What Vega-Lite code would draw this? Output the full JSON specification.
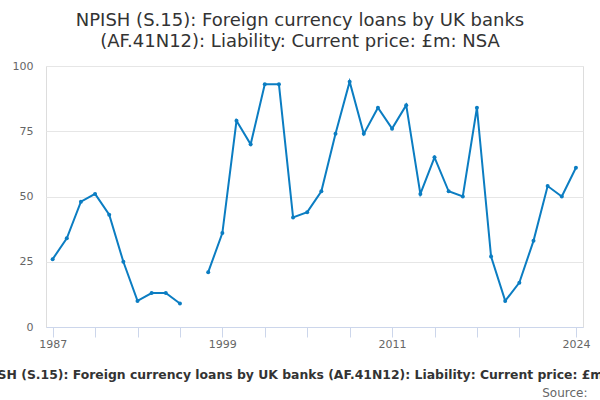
{
  "$schema": "https://vega.github.io/schema/vega-lite/v6.json",
  "autosize": {"type": "none"},
  "width": 537,
  "height": 261,
  "padding": {"left": 46, "top": 66, "right": 17, "bottom": 73},
  "background": "white",
  "title": {
    "text": ["NPISH (S.15): Foreign currency loans by UK banks", "(AF.41N12): Liability: Current price: £m: NSA"],
    "anchor": "middle",
    "dx": -14.5,
    "offset": 9,
    "fontSize": 18,
    "lineHeight": 21,
    "font": "DejaVu Sans",
    "fontWeight": "normal",
    "color": "#333333"
  },
  "data": {
    "values": [
      {"year": 1987, "value": 26},
      {"year": 1988, "value": 34},
      {"year": 1989, "value": 48},
      {"year": 1990, "value": 51},
      {"year": 1991, "value": 43},
      {"year": 1992, "value": 25},
      {"year": 1993, "value": 10},
      {"year": 1994, "value": 13},
      {"year": 1995, "value": 13},
      {"year": 1996, "value": 9},
      {"year": 1997, "value": null},
      {"year": 1998, "value": 21},
      {"year": 1999, "value": 36},
      {"year": 2000, "value": 79},
      {"year": 2001, "value": 70},
      {"year": 2002, "value": 93},
      {"year": 2003, "value": 93},
      {"year": 2004, "value": 42},
      {"year": 2005, "value": 44},
      {"year": 2006, "value": 52},
      {"year": 2007, "value": 74},
      {"year": 2008, "value": 94},
      {"year": 2009, "value": 74},
      {"year": 2010, "value": 84},
      {"year": 2011, "value": 76},
      {"year": 2012, "value": 85},
      {"year": 2013, "value": 51},
      {"year": 2014, "value": 65},
      {"year": 2015, "value": 52},
      {"year": 2016, "value": 50},
      {"year": 2017, "value": 84},
      {"year": 2018, "value": 27},
      {"year": 2019, "value": 10},
      {"year": 2020, "value": 17},
      {"year": 2021, "value": 33},
      {"year": 2022, "value": 54},
      {"year": 2023, "value": 50},
      {"year": 2024, "value": 61}
    ]
  },
  "mark": {
    "type": "line",
    "color": "#0b7dc2",
    "strokeWidth": 2,
    "invalid": "break-paths-show-domains",
    "point": {"filled": true, "size": 16, "color": "#0b7dc2"}
  },
  "encoding": {
    "x": {
      "field": "year",
      "type": "quantitative",
      "scale": {"domain": [1986.53, 2024.5], "nice": false, "zero": false},
      "axis": {
        "values": [1987, 1990, 1993, 1996, 1999, 2002, 2005, 2008, 2011, 2014, 2017, 2020, 2024],
        "labelExpr": "indexof([1987, 1999, 2011, 2024], datum.value) >= 0 ? datum.label : ''",
        "format": "d",
        "grid": false,
        "domainColor": "#ccd6eb",
        "tickColor": "#ccd6eb",
        "tickSize": 10,
        "labelFont": "DejaVu Sans",
        "labelFontSize": 11,
        "labelColor": "#666666",
        "labelPadding": 1,
        "title": "NPISH (S.15): Foreign currency loans by UK banks (AF.41N12): Liability: Current price: £m: NSA",
        "titleFont": "DejaVu Sans",
        "titleFontSize": 12.4,
        "titleFontWeight": "bold",
        "titleColor": "#333333",
        "titleLimit": 2000,
        "titlePadding": 19,
        "titleX": 261
      }
    },
    "y": {
      "field": "value",
      "type": "quantitative",
      "scale": {"domain": [0, 100], "nice": false},
      "axis": {
        "values": [0, 25, 50, 75, 100],
        "domain": false,
        "ticks": false,
        "gridColor": "#e6e6e6",
        "labelFont": "DejaVu Sans",
        "labelFontSize": 11,
        "labelColor": "#666666",
        "labelPadding": 13,
        "title": "Source:",
        "titleAngle": 0,
        "titleAlign": "right",
        "titleBaseline": "alphabetic",
        "titleX": 541,
        "titleY": 330,
        "titleFont": "DejaVu Sans",
        "titleFontSize": 12,
        "titleFontWeight": "normal",
        "titleColor": "#666666"
      }
    }
  }
}
